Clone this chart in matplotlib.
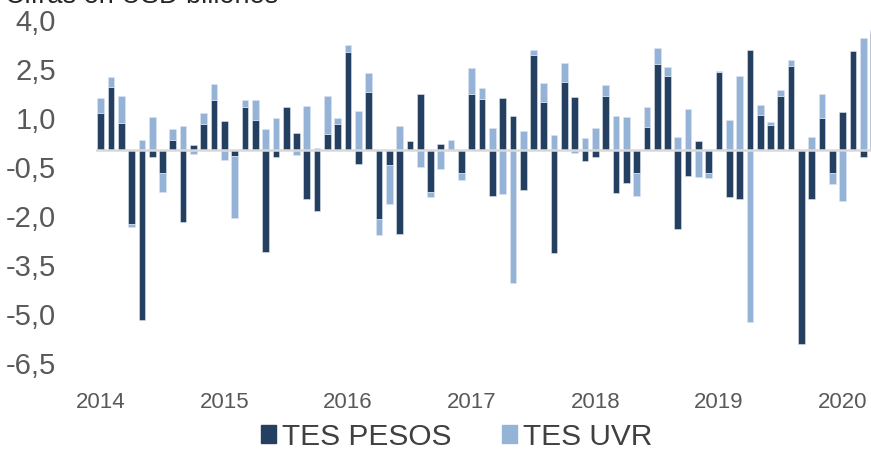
import numpy as np
import matplotlib
matplotlib.use("Agg")
import matplotlib.pyplot as plt
from matplotlib.patches import Patch

plt.rcParams['font.family'] = ['Liberation Sans', 'DejaVu Sans']

# monthly flows, Jan 2014 .. Apr 2020 (USD billones)
tes_pesos = [1.14, 1.95, 0.85, -2.25, -5.18, -0.21, -0.70, 0.32, -2.18, 0.17, 0.81, 1.54,
             0.90, -0.17, 1.34, 0.93, -3.09, -0.21, 1.34, 0.54, -1.49, -1.84, 0.49, 0.80,
             3.00, -0.42, 1.80, -2.09, -0.45, -2.56, 0.30, 1.74, -1.28, 0.20, 0.00, -0.70,
             1.73, 1.57, -1.40, 1.61, 1.05, -1.20, 2.91, 1.49, -3.14, 2.10, 1.63, -0.32,
             -0.19, 1.66, -1.29, -1.00, -0.69, 0.72, 2.64, 2.28, -2.41, -0.78, 0.30, -0.69,
             2.41, -1.43, -1.47, 3.08, 1.09, 0.78, 1.66, 2.58, -5.93, -1.49, 0.98, -0.69,
             1.19, 3.04, -0.19, 3.58]
tes_uvr = [0.46, 0.29, 0.82, -0.10, 0.32, 1.02, -0.56, 0.34, 0.76, -0.12, 0.33, 0.49,
           -0.30, -1.90, 0.19, 0.60, 0.66, 0.99, 0.00, -0.13, 1.37, 0.08, 1.18, 0.18,
           0.22, 1.20, 0.57, -0.49, -1.18, 0.75, 0.00, -0.49, -0.15, -0.56, 0.32, -0.21,
           0.80, 0.34, 0.70, -1.32, -4.04, 0.61, 0.17, 0.57, 0.46, 0.57, -0.07, 0.39,
           0.68, 0.35, 1.04, 1.02, -0.71, 0.60, 0.50, 0.26, 0.41, 1.27, -0.81, -0.15,
           0.03, 0.94, 2.27, -5.25, 0.29, 0.10, 0.19, 0.19, 0.00, 0.40, 0.75, -0.34,
           -1.54, 0.00, 3.45, 0.10]
years = ['2014', '2015', '2016', '2017', '2018', '2019', '2020']
y_ticks = [4.0, 2.5, 1.0, -0.5, -2.0, -3.5, -5.0, -6.5]
y_labels = ['4,0', '2,5', '1,0', '-0,5', '-2,0', '-3,5', '-5,0', '-6,5']

dark = '#253f61'
light = '#95b3d7'
grey_txt = '#595959'

pesos = np.array(tes_pesos)
uvr = np.array(tes_uvr)
x = np.arange(len(pesos))
# stack UVR on pesos only when same sign (Excel-style stacking)
uvr_bottom = np.where(np.sign(uvr) == np.sign(pesos), pesos, 0.0)

fig = plt.figure(figsize=(8.71, 4.51), dpi=100)
ax = fig.add_axes([96 / 871, 1 - 363 / 451, 1 - 96 / 871, (363 - 19.7) / 451])

w = 0.65
ax.bar(x, pesos, width=w, color=dark, edgecolor='#dce6f2', linewidth=0.4, zorder=2)
ax.bar(x, uvr, width=w, bottom=uvr_bottom, color=light, edgecolor='#dce6f2', linewidth=0.4, zorder=2)
ax.axhline(0, color='#d9d9d9', lw=1.8, zorder=3)

ax.set_xlim(-0.456, 74.75)
ax.set_ylim(-6.5, 4.0)
ax.set_yticks(y_ticks)
ax.set_yticklabels(y_labels)
ax.set_xticks(np.arange(len(years)) * 12)
ax.set_xticklabels(years)
ax.tick_params(axis='y', length=0, pad=29, labelsize=21, labelcolor=grey_txt)
ax.tick_params(axis='x', length=0, pad=21, labelsize=16, labelcolor=grey_txt)
for s in ax.spines.values():
    s.set_visible(False)

fig.text(0.006, 1 - 3 / 451, 'Cifras en USD billones', fontsize=19.5, color='#262626',
         va='baseline', ha='left')

handles = [Patch(color=dark), Patch(color=light)]
fig.legend(handles, ['TES PESOS', 'TES UVR'], loc='center', bbox_to_anchor=(0.524, 1 - 437 / 451),
           ncol=2, frameon=False, fontsize=21.5, handlelength=0.5, handleheight=0.55,
           handletextpad=0.2, columnspacing=1.7, labelcolor='#404040')

fig.savefig('out.png', dpi=100)
